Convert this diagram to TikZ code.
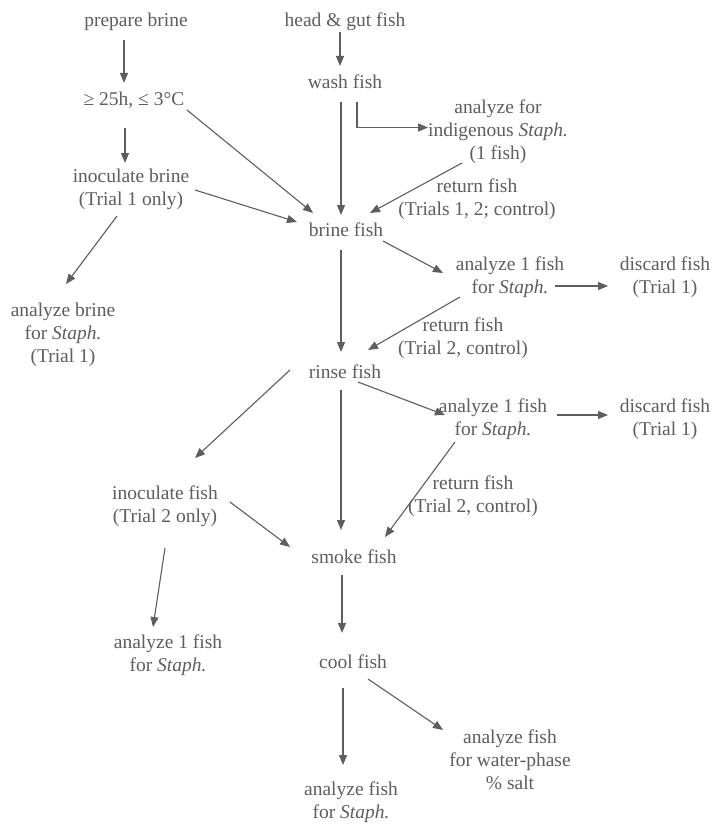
\documentclass[tikz,border=0pt]{standalone}
\usepackage{fontspec}
\setmainfont{Liberation Serif}
\newfontfamily\tnr{Liberation Serif}
\usetikzlibrary{arrows.meta}
\definecolor{ink}{HTML}{5E5E5E}
\tikzset{
  lbl/.style={align=center, inner sep=0pt, text=ink, font=\tnr\fontsize{19.5}{22.8}\selectfont},
  arr/.style={draw=ink, line width=1.1pt, -{Triangle[length=10pt,width=8pt]}},
}
\begin{document}
\begin{tikzpicture}[x=1pt,y=-1pt]
\useasboundingbox (0,0) rectangle (715,824);
\fill[white] (0,0) rectangle (715,824);
% nodes
\node[lbl] (pb) at (136,22) {prepare brine};
\node[lbl] (hg) at (345,22) {head \& gut fish};
\node[lbl] (wf) at (345,82) {wash fish};
\node[lbl] (h25) at (134,100) {≥ 25h, ≤ 3°C};
\node[lbl] (ib) at (131,189) {inoculate brine\\(Trial 1 only)};
\node[lbl] (bf) at (346,230) {brine fish};
\node[lbl] (ai) at (498,131.5) {analyze for\\indigenous \textit{Staph.}\\(1 fish)};
\node[lbl] (rt1) at (477,199) {return fish\\(Trials 1, 2; control)};
\node[lbl] (a1) at (510,277) {analyze 1 fish\\for \textit{Staph.}};
\node[lbl] (d1) at (665,277) {discard fish\\(Trial 1)};
\node[lbl] (rt2) at (463,338.5) {return fish\\(Trial 2, control)};
\node[lbl] (rf) at (345,372) {rinse fish};
\node[lbl] (a2) at (493,419) {analyze 1 fish\\for \textit{Staph.}};
\node[lbl] (d2) at (665,419) {discard fish\\(Trial 1)};
\node[lbl] (rt3) at (473,496) {return fish\\(Trial 2, control)};
\node[lbl] (ab) at (63,335) {analyze brine\\for \textit{Staph.}\\(Trial 1)};
\node[lbl] (ifn) at (165,506.5) {inoculate fish\\(Trial 2 only)};
\node[lbl] (sf) at (354,557) {smoke fish};
\node[lbl] (cf) at (353,662) {cool fish};
\node[lbl] (as) at (351,802.5) {analyze fish\\for \textit{Staph.}};
\node[lbl] (aw) at (510,760) {analyze fish\\for water-phase\\\% salt};
\node[lbl] (al) at (168,655) {analyze 1 fish\\for \textit{Staph.}};
% connectors
\draw[arr] ([shift={(-12,18)}]pb.center) -- ([shift={(-10,-17)}]h25.center);
\draw[arr] ([shift={(-9,28)}]h25.center) -- ([shift={(-6,-26)}]ib.center);
\draw[arr] ([shift={(53,10)}]h25.center) -- ([shift={(-33,-17)}]bf.center);
\draw[arr] ([shift={(64,1)}]ib.center) -- ([shift={(-49,-8)}]bf.center);
\draw[arr] ([shift={(-14,27)}]ib.center) -- ([shift={(3,-51)}]ab.center);
\draw[arr] ([shift={(-5,10)}]hg.center) -- ([shift={(-5,-16)}]wf.center);
\draw[arr] ([shift={(-4,20)}]wf.center) -- ([shift={(-5,-15)}]bf.center);
\draw[arr] ([shift={(12,20)}]wf.center) |- ([shift={(-70,-4)}]ai.center);
\draw[arr] ([shift={(-36,31.5)}]ai.center) -- ([shift={(24,-17)}]bf.center);
\draw[arr] ([shift={(37,11)}]bf.center) -- ([shift={(-67,-4)}]a1.center);
\draw[arr] ([shift={(-5,20)}]bf.center) -- ([shift={(-4,-20)}]rf.center);
\draw[arr] ([shift={(45,9)}]a1.center) -- ([shift={(-57,9)}]d1.center);
\draw[arr] ([shift={(-50,20)}]a1.center) -- ([shift={(23,-22)}]rf.center);
\draw[arr] ([shift={(13,10)}]rf.center) -- ([shift={(-48,-4)}]a2.center);
\draw[arr] ([shift={(64,-4)}]a2.center) -- ([shift={(-57,-4)}]d2.center);
\draw[arr] ([shift={(-38,23)}]a2.center) -- ([shift={(31,-20)}]sf.center);
\draw[arr] ([shift={(-4,18)}]rf.center) -- ([shift={(-13,-27)}]sf.center);
\draw[arr] ([shift={(-55,-2)}]rf.center) -- ([shift={(30,-48.5)}]ifn.center);
\draw[arr] ([shift={(65,-4.5)}]ifn.center) -- ([shift={(-64,-10)}]sf.center);
\draw[arr] ([shift={(0,41.5)}]ifn.center) -- ([shift={(-15,-28)}]al.center);
\draw[arr] ([shift={(-12,18)}]sf.center) -- ([shift={(-11,-29)}]cf.center);
\draw[arr] ([shift={(-10,26)}]cf.center) -- ([shift={(-8,-37.5)}]as.center);
\draw[arr] ([shift={(15,17)}]cf.center) -- ([shift={(-67,-30)}]aw.center);
\end{tikzpicture}
\end{document}
